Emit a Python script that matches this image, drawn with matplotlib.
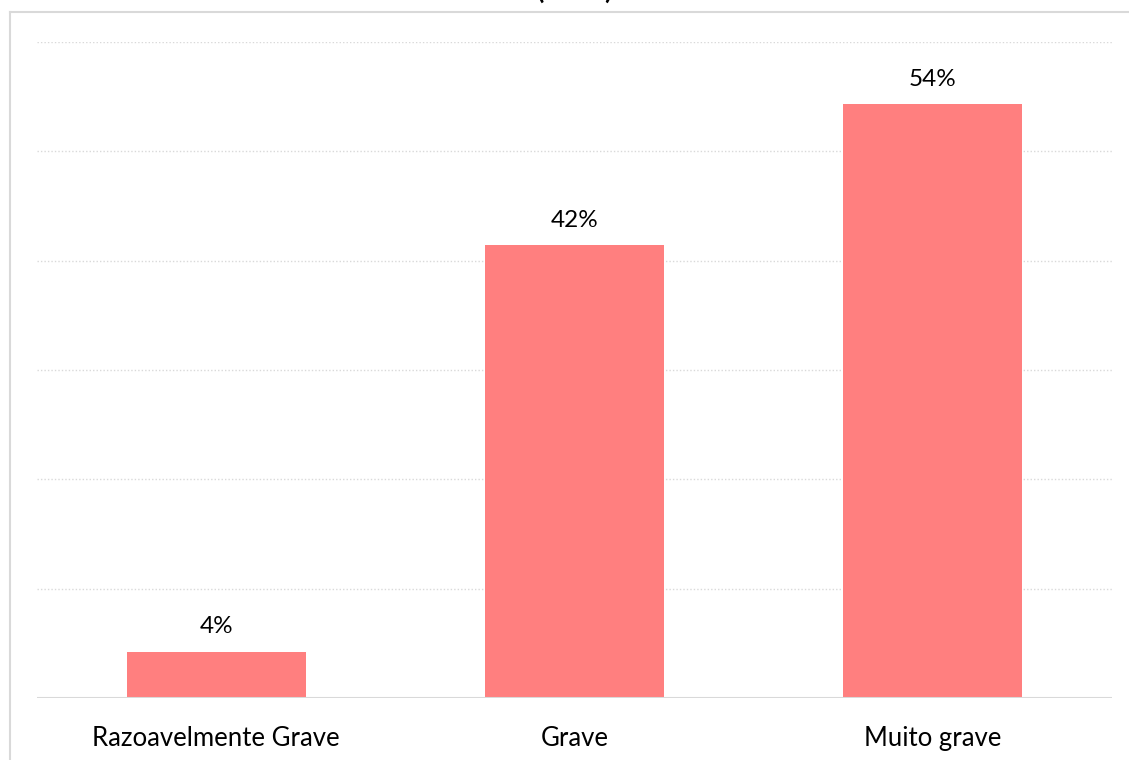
import numpy as np
import matplotlib
matplotlib.use('Agg')
import matplotlib.pyplot as plt
from matplotlib.lines import Line2D

# dati (n=24)
categorie = ['Razoavelmente Grave', 'Grave', 'Muito grave']
valori = [4.2, 41.4, 54.3]
etichette = ['4%', '42%', '54%']
titolo = '(n=24)'

plt.rcParams['font.family'] = ['Lato', 'DejaVu Sans']

fig = plt.figure(figsize=(11.29, 7.6), dpi=100)
ax = fig.add_axes([37 / 1129, 1 - 698 / 760, 1075 / 1129, 656 / 760])

x = np.arange(len(categorie))
ax.bar(x, valori, width=0.5, color='#FF7F7F', zorder=3)

ax.set_xlim(-0.5, len(categorie) - 0.5)
ax.set_ylim(0, 60)

# griglia tratteggiata
for yv in range(10, 61, 10):
    ax.axhline(yv, color='#D9D9D9', lw=1, linestyle=(0, (1, 1.5)), zorder=1)
ax.axhline(0, color='#D9D9D9', lw=1.5, zorder=4)

for s in ax.spines.values():
    s.set_visible(False)
ax.set_yticks([])
ax.set_xticks(x)
ax.set_xticklabels(categorie, fontsize=18.5, color='#000000')
ax.tick_params(axis='x', length=0, pad=20.5)

# etichette sulle barre
for xi, v, lab in zip(x, valori, etichette):
    ax.annotate(lab, (xi, v), xytext=(0, 13.5), textcoords='offset points',
                ha='center', va='baseline', fontsize=17.5)

# cornice del grafico (solo sinistra e sopra visibili)
fig.add_artist(Line2D([10 / 1129, 10 / 1129], [0, 1 - 12 / 760],
                      transform=fig.transFigure, color='#D9D9D9', lw=1.5))
fig.add_artist(Line2D([10 / 1129, 1], [1 - 12 / 760, 1 - 12 / 760],
                      transform=fig.transFigure, color='#D9D9D9', lw=1.5))

# titolo tagliato in alto (come nell'originale)
fig.text(575 / 1129, 1 + 1 / 760, titolo, ha='center', va='baseline',
         fontsize=19, fontweight='bold')

fig.savefig('out.png', dpi=100)
